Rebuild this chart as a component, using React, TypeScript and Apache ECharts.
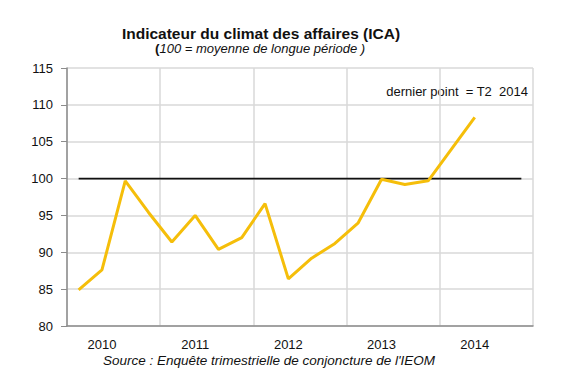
import React, { useEffect, useRef } from "react";
import * as echarts from "echarts";

const years = ["2010", "2011", "2012", "2013", "2014"];
const quarterNames = ["T1", "T2", "T3", "T4"];
// ICA, quarterly, T1 2010 .. T2 2014
const icaValues = [
  84.9, 87.6, 99.7, 95.4,
  91.4, 95.0, 90.4, 92.0,
  96.6, 86.4, 89.2, 91.2,
  94.0, 99.9, 99.2, 99.7,
  104.0, 108.3,
];
const referenceLevel = 100;
const yMin = 80;
const yMax = 115;
const yStep = 5;

const titleText = "Indicateur du climat des affaires (ICA)";
const subtitleText = "100 = moyenne de longue période ";
const noteText = "dernier point  = T2  2014";
const sourceText = "Source : Enquête trimestrielle de conjoncture de l'IEOM";

export default function App() {
  const ref = useRef<HTMLDivElement>(null);
  useEffect(() => {
    if (!ref.current) return;
    const chart = echarts.init(ref.current, null, { renderer: "svg" });
    const quarters: string[] = [];
    years.forEach((y) => quarterNames.forEach((q) => quarters.push(q + " " + y)));
    const refLine = quarters.map(() => referenceLevel);
    const font = "'Liberation Sans', Arial, sans-serif";
    chart.setOption({
      animation: false,
      backgroundColor: "#ffffff",
      grid: { left: 67, right: 53, top: 68, bottom: 55, containLabel: false },
      xAxis: [
        {
          type: "category",
          data: quarters,
          boundaryGap: true,
          axisLine: { show: true, lineStyle: { color: "#8c8c8c", width: 1.5 } },
          axisTick: { show: false },
          splitLine: { show: false },
          axisLabel: {
            interval: 0,
            margin: 12,
            lineHeight: 13,
            color: "#111",
            fontFamily: font,
            fontSize: 13,
            formatter: (v: string, i: number) => (i % 4 === 1 ? years[Math.floor(i / 4)] : ""),
          },
        },
        {
          type: "category",
          data: years,
          boundaryGap: true,
          position: "bottom",
          axisLine: { show: false },
          axisTick: { show: false },
          axisLabel: { show: false },
          splitLine: { show: true, lineStyle: { color: "#d9d9d9", width: 1.5 } },
        },
      ],
      yAxis: {
        type: "value",
        min: yMin,
        max: yMax,
        interval: yStep,
        axisLine: { show: true, lineStyle: { color: "#8c8c8c", width: 1.5 } },
        axisTick: { show: true, length: 6, lineStyle: { color: "#8c8c8c" } },
        splitLine: { show: true, lineStyle: { color: "#d9d9d9", width: 1.5 } },
        axisLabel: { margin: 14, color: "#111", fontFamily: font, fontSize: 13 },
      },
      series: [
        {
          type: "line",
          xAxisIndex: 0,
          data: refLine,
          symbol: "none",
          lineStyle: { color: "#111111", width: 1.8 },
          z: 2,
        },
        {
          type: "line",
          xAxisIndex: 0,
          data: icaValues,
          symbol: "none",
          lineStyle: { color: "#F5BE0A", width: 3 },
          z: 3,
        },
      ],
      graphic: [
        {
          type: "text",
          x: 261,
          y: 33,
          style: {
            text: titleText,
            fontFamily: font,
            fontWeight: "bold",
            fontSize: 15.5,
            fill: "#111",
            align: "center",
            verticalAlign: "middle",
          },
        },
        {
          type: "text",
          x: 260,
          y: 48,
          style: {
            text: "{b|(}{i|" + subtitleText + ")}",
            align: "center",
            verticalAlign: "middle",
            rich: {
              b: { fontFamily: font, fontWeight: "bold", fontSize: 13.5, fill: "#111" },
              i: { fontFamily: font, fontStyle: "italic", fontSize: 13, fill: "#111" },
            },
          },
        },
        {
          type: "text",
          x: 528,
          y: 91,
          style: {
            text: noteText,
            fontFamily: font,
            fontSize: 13,
            fill: "#111",
            align: "right",
            verticalAlign: "middle",
          },
        },
        {
          type: "text",
          x: 103,
          y: 360,
          style: {
            text: sourceText,
            fontFamily: font,
            fontStyle: "italic",
            fontSize: 13.5,
            lineHeight: 14,
            fill: "#111",
            align: "left",
            verticalAlign: "middle",
          },
        },
      ],
    });
    return () => chart.dispose();
  }, []);
  return (
    <div
      ref={ref}
      style={{ position: "fixed", left: 0, top: 0, width: 586, height: 381, background: "#fff" }}
    />
  );
}
